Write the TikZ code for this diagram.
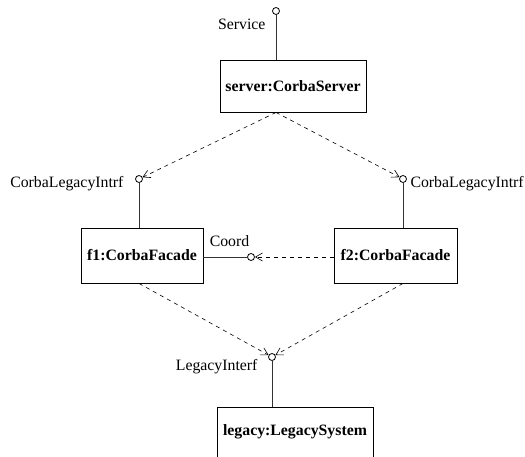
\documentclass[tikz,border=0pt]{standalone}
\usepackage{fontspec}
\setmainfont{Liberation Serif}
\usetikzlibrary{arrows.meta}
\newcommand{\umlfont}{\fontsize{15.8}{18}\selectfont}
\tikzset{comp/.style={draw,line width=0.9pt,font=\umlfont\bfseries,inner sep=0pt},
 port/.style={circle,draw,line width=0.8pt,fill=white,inner sep=0pt,minimum size=7pt},
 wire/.style={line width=0.9pt,draw=black!80},
 uses/.style={dash pattern=on 4pt off 4pt,line width=0.6pt,-{Straight Barb[length=7pt,width=8pt]}},
 every node/.style={font=\umlfont}}
\begin{document}
\begin{tikzpicture}[x=1pt,y=-1pt]
\useasboundingbox (0,0) rectangle (525,457);
% components
\node[comp,minimum width=146pt,minimum height=52pt] (server) at (293,86) {server:CorbaServer};
\node[comp,minimum width=122pt,minimum height=55pt] (f1) at (142,255.5) {f1:CorbaFacade};
\node[comp,minimum width=123pt,minimum height=55pt] (f2) at (395.5,255.5) {f2:CorbaFacade};
\node[comp,minimum width=156pt,minimum height=64pt] (legacy) at (295,439) {};
\node[font=\umlfont\bfseries] (legacytxt) at (295,432) {legacy:LegacySystem};
% provided interfaces
\node[port] (svc) at (276,11) {};
\node[port] (ci1) at (139,179) {};
\node[port] (ci2) at (403,179) {};
\node[port] (coord) at (251,257) {};
\node[port] (li) at (272,357) {};
\node[anchor=east] (svclbl) at (269,24) {Service};
\node[anchor=east] (ci1lbl) at (127,184) {CorbaLegacyIntrf};
\node[anchor=west] (ci2lbl) at (407,184) {CorbaLegacyIntrf};
\node (coordlbl) at (229.5,241) {Coord};
\node[anchor=east] (lilbl) at (261,367) {LegacyInterf};
\draw[wire] (server.north -| svc) -- (svc);
\draw[wire] (f1.north -| ci1) -- (ci1);
\draw[wire] (f2.north -| ci2) -- (ci2);
\draw[wire] (f1.east |- coord) -- (coord);
\draw[wire] (legacy.north -| li) -- (li);
% dependencies
\draw[uses] (server.south -| svc) -- (ci1);
\draw[uses] (server.south -| svc) -- (ci2);
\draw[uses] (f2.west |- coord) -- (coord);
\draw[uses] (f1.south -| ci1) -- (li);
\draw[uses] (f2.south -| ci2) -- (li);
\end{tikzpicture}
\end{document}
